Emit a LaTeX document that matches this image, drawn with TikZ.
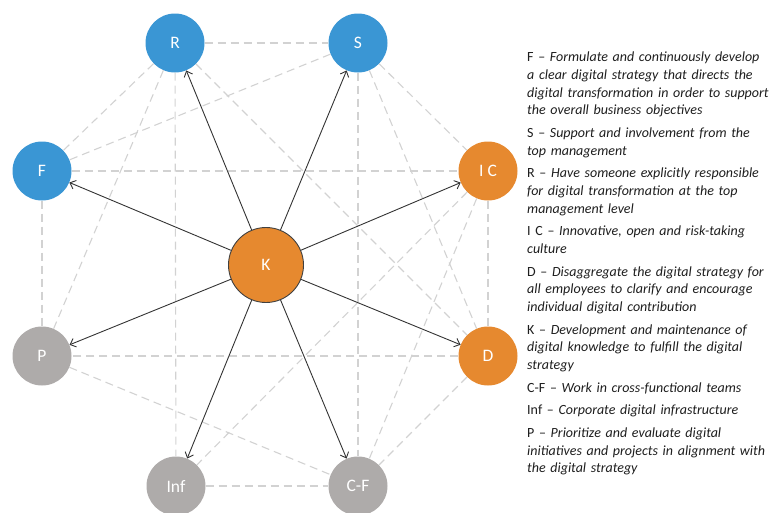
\documentclass[tikz,border=0pt]{standalone}
\usepackage{fontspec}
\setmainfont{Carlito}
\usetikzlibrary{arrows.meta}
\definecolor{cblue}{HTML}{3A96D4}
\definecolor{corange}{HTML}{E6892F}
\definecolor{cgray}{HTML}{AEABAA}
\definecolor{cdash}{HTML}{D2D2D2}
\definecolor{ctext}{HTML}{1E1E1E}
\begin{document}
\begin{tikzpicture}[x=1pt,y=-1pt,
  circ/.style={circle, minimum size=59pt, inner sep=0pt, text=white,
    font=\fontsize{17.5}{20}\selectfont},
  bluec/.style={circ, fill=cblue},
  orangec/.style={circ, fill=corange},
  grayc/.style={circ, fill=cgray},
  kc/.style={circle, minimum size=75pt, inner sep=0pt, fill=corange,
    draw=black!75, line width=0.9pt, text=white, font=\fontsize{17.5}{20}\selectfont},
  link/.style={draw=cdash, dash pattern=on 8pt off 5pt, line width=1.1pt},
  arr/.style={draw=black!80, line width=0.9pt, -{Straight Barb[length=5pt,width=9pt]}},
  txt/.style={text width=250pt, align=left, inner sep=0pt,
    font=\fontsize{14}{17.8}\selectfont, text=ctext}
]
\useasboundingbox (0,0) rectangle (772,512);

\node[bluec] (R) at (175,43) {R};
\node[bluec] (S) at (358,43) {S};
\node[bluec] (F) at (42,171) {F};
\node[orangec] (IC) at (488,171) {I C};
\node[orangec] (D) at (488,356) {D};
\node[grayc] (P) at (42,356) {P};
\node[grayc] (Inf) at (176,486) {Inf};
\node[grayc] (CF) at (358,486) {C-F};
\node[kc] (K) at (266,265) {K};

% dashed links
\draw[link] (R) -- (S);
\draw[link] (R) -- (F);
\draw[link] (R) -- (P);
\draw[link] (R) -- (Inf);
\draw[link] (R) -- (D);
\draw[link] (S) -- (F);
\draw[link] (S) -- (CF);
\draw[link] (S) -- (IC);
\draw[link] (S) -- (D);
\draw[link] (F) -- (IC);
\draw[link] (F) -- (P);
\draw[link] (IC) -- (D);
\draw[link] (IC) -- (Inf);
\draw[link] (IC) -- (CF);
\draw[link] (D) -- (P);
\draw[link] (D) -- (CF);
\draw[link] (P) -- (CF);
\draw[link] (Inf) -- (CF);

% arrows from K
\foreach \t in {R,S,F,IC,D,P,Inf,CF} {
  \draw[arr] (K) -- (\t);
}

\node[txt, anchor=north west] (legend) at (527,51.5) {%
F -- \textit{Formulate and continuously develop}\\
\textit{a clear digital strategy that directs the}\\
\textit{digital transformation in order to support}\\
\textit{the overall business objectives}\\[4.7pt]
S -- \textit{Support and involvement from the}\\
\textit{top management}\\[4.7pt]
R -- \textit{Have someone explicitly responsible}\\
\textit{for digital transformation at the top}\\
\textit{management level}\\[4.7pt]
I C -- \textit{Innovative, open and risk-taking}\\
\textit{culture}\\[4.7pt]
D -- \textit{Disaggregate the digital strategy for}\\
\textit{all employees to clarify and encourage}\\
\textit{individual digital contribution}\\[4.7pt]
K -- \textit{Development and maintenance of}\\
\textit{digital knowledge to fulfill the digital}\\
\textit{strategy}\\[4.7pt]
C-F -- \textit{Work in cross-functional teams}\\[4.7pt]
Inf -- \textit{Corporate digital infrastructure}\\[4.7pt]
P -- \textit{Prioritize and evaluate digital}\\
\textit{initiatives and projects in alignment with}\\
\textit{the digital strategy}};
\end{tikzpicture}
\end{document}
